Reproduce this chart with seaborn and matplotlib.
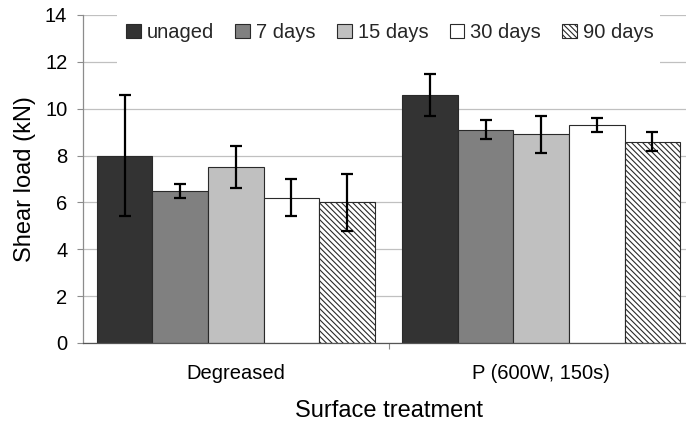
import matplotlib
matplotlib.use("Agg")
import matplotlib.pyplot as plt
from matplotlib.patches import Rectangle
import numpy as np
import pandas as pd
import seaborn as sns

# Data: mean shear load (kN) and error half-widths per surface treatment and ageing time
treatments = ["Degreased", "P (600W, 150s)"]
ageing = ["unaged", "7 days", "15 days", "30 days", "90 days"]
load_degreased = [8.0, 6.5, 7.5, 6.2, 6.0]
load_plasma = [10.6, 9.1, 8.9, 9.3, 8.6]
err_degreased = [2.6, 0.3, 0.9, 0.8, 1.2]
err_plasma = [0.9, 0.4, 0.8, 0.3, 0.4]
yticks = [0, 2, 4, 6, 8, 10, 12, 14]

colors = ["#333333", "#808080", "#c0c0c0", "#ffffff", "#ffffff"]

rows = []
for t, loads, errs in [(treatments[0], load_degreased, err_degreased),
                       (treatments[1], load_plasma, err_plasma)]:
    for a, v, e in zip(ageing, loads, errs):
        rows.append({"treatment": t, "ageing": a, "load": v, "err": e})
df = pd.DataFrame(rows)

sns.set_theme(style="white")
plt.rcParams["font.family"] = ["Liberation Sans", "DejaVu Sans"]
plt.rcParams["hatch.linewidth"] = 0.8
plt.rcParams["hatch.color"] = "black"

W, H = 686, 426
fig = plt.figure(figsize=(W / 100, H / 100), dpi=100)
ax = fig.add_axes([83 / W, 1 - 343 / H, 611 / W, 328 / H])

sns.barplot(data=df, x="treatment", y="load", hue="ageing", order=treatments,
            hue_order=ageing, palette=colors, width=0.91, gap=0,
            edgecolor="#2a2a2a", linewidth=0.8, errorbar=None, legend=False,
            saturation=1, ax=ax)

# Hatch the longest-aged series and add error bars at the bar centres
for level, container in zip(ageing, ax.containers):
    sub = df[df["ageing"] == level].set_index("treatment").loc[treatments]
    for patch in container.patches:
        if level == "90 days":
            patch.set_hatch("\\\\\\\\\\\\")
    xs = [p.get_x() + p.get_width() / 2 for p in container.patches]
    ax.errorbar(xs, sub["load"].values, yerr=sub["err"].values, fmt="none",
                ecolor="black", elinewidth=1.6, capsize=4.3, capthick=1.6,
                zorder=4)

ax.set_ylim(0, 14)
ax.set_xlim(-0.5, 1.5)
ax.set_yticks(yticks)
ax.set_axisbelow(True)
ax.yaxis.grid(True, color="#c0c0c0", linewidth=0.9)
ax.xaxis.grid(False)

for side in ["top", "right"]:
    ax.spines[side].set_visible(False)
ax.spines["left"].set_color("#8c8c8c")
ax.spines["left"].set_linewidth(0.9)
ax.spines["bottom"].set_color("#555555")
ax.spines["bottom"].set_linewidth(0.9)

ax.tick_params(axis="y", which="major", left=True, length=4.3, width=0.8,
               color="#8c8c8c", pad=7, labelsize=14.5, labelcolor="black")
ax.set_xticks([0.5], minor=True)
ax.tick_params(axis="x", which="minor", bottom=True, length=4.5, width=0.8,
               color="#8c8c8c")
ax.tick_params(axis="x", which="major", bottom=False, length=0, pad=15,
               labelsize=14.5, labelcolor="black")

ax.set_xlabel("Surface treatment", fontsize=17, color="black")
ax.set_ylabel("Shear load (kN)", fontsize=17, color="black")
ax.xaxis.set_label_coords(0.5008, -0.175)
ax.yaxis.set_label_coords(-0.077, 0.5)

# White backing behind the legend, above the gridlines
ax.add_patch(Rectangle((117 / W, 1 - 67 / H), (660 - 117) / W, 60 / H,
                       transform=fig.transFigure, facecolor="white",
                       edgecolor="none", zorder=1.5, clip_on=False))

ax.legend(ax.containers, ageing, loc="center", ncol=5,
          bbox_to_anchor=(390 / W, 1 - 32.5 / H), bbox_transform=fig.transFigure,
          frameon=False, fontsize=14.5, handlelength=0.74, handleheight=0.72,
          handletextpad=0.3, columnspacing=1.05, borderpad=0.2)

fig.savefig("out.png", dpi=100)
